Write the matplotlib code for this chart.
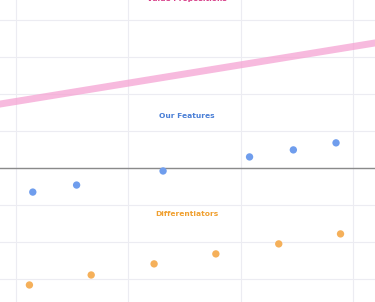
import numpy as np
import matplotlib.pyplot as plt

# feature points (blue)
feat_x = [0.15, 0.54, 1.31, 2.08, 2.47, 2.85]
feat_y = [-0.65, -0.46, -0.08, 0.30, 0.49, 0.68]

# differentiator points (orange)
diff_x = [0.12, 0.67, 1.23, 1.78, 2.34, 2.89]
diff_y = [-3.16, -2.89, -2.59, -2.32, -2.05, -1.78]

# value proposition trend line (pink)
value_x = [-0.2, 3.3]
value_y = [1.70, 3.43]

fig = plt.figure(figsize=(3.75, 3.02), dpi=100)
ax = fig.add_axes([0, 0, 1, 1])

ax.plot(value_x, value_y, color='#f5a3d3', lw=5.0, alpha=0.75, solid_capstyle='butt', zorder=2)
ax.scatter(feat_x, feat_y, s=28, color='#6f9ded', edgecolors='none', zorder=3)
ax.scatter(diff_x, diff_y, s=28, color='#f5b05a', edgecolors='none', zorder=3)

ax.axhline(0, color='#8a8a8a', lw=1.0, zorder=1)

ax.text(1.525, 4.57, 'Value Propositions', color='#d63a86', fontsize=5.4,
        fontweight='bold', ha='center', va='center')
ax.text(1.525, 1.41, 'Our Features', color='#4a7fd6', fontsize=5.4,
        fontweight='bold', ha='center', va='center')
ax.text(1.525, -1.24, 'Differentiators', color='#f0a030', fontsize=5.4,
        fontweight='bold', ha='center', va='center')

ax.set_xlim(-0.142, 3.197)
ax.set_ylim(-3.62, 4.54)
ax.set_xticks([0, 1, 2, 3])
ax.set_yticks(np.arange(-3, 5))
ax.grid(True, color='#ececf2', lw=0.8)
ax.set_axisbelow(True)
ax.tick_params(length=0, labelbottom=False, labelleft=False)
for s in ax.spines.values():
    s.set_visible(False)

fig.savefig('out.png', dpi=100)
